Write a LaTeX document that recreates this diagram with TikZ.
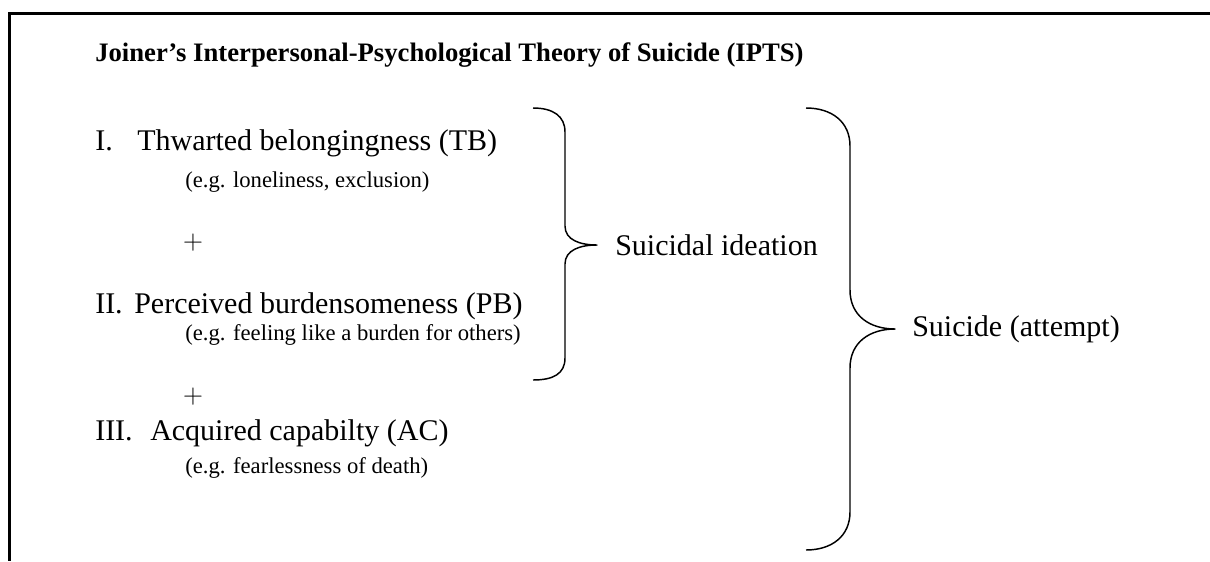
\documentclass[tikz,border=0pt]{standalone}
\usepackage{fontspec}
\setmainfont{Liberation Serif}
\tikzset{
  titre/.style={anchor=base west, inner sep=0pt, font=\fontsize{20}{24}\selectfont\bfseries},
  facteur/.style={anchor=base west, inner sep=0pt, font=\fontsize{22.5}{27}\selectfont},
  exemple/.style={anchor=base west, inner sep=0pt, font=\fontsize{17}{20}\selectfont},
  plus/.style={anchor=center, inner sep=0pt, font=\fontsize{20}{24}\selectfont},
  accolade/.style={line width=1.1pt, line join=round},
}
\begin{document}
\begin{tikzpicture}[x=0.75pt, y=-0.75pt]
            \useasboundingbox (0,0) rectangle (1210,561);

            % Cadre (ouvert en bas et a droite)
            \draw[line width=1.6pt] (1210,13.5) -- (9.5,13.5) -- (9.5,561);

            % Titre
            \node[titre] (title) at (95,61) {Joiner’s Interpersonal-Psychological Theory of Suicide (IPTS)};

            % Facteurs I, II, III
            \node[facteur] (tbnum) at (95,150) {I.};
            \node[facteur] (tb) at (137,150) {Thwarted belongingness (TB)};
            \node[exemple] (tbex) at (185,187) {(e.g. loneliness, exclusion)};
            \node[plus] (plusa) at (193,243) {$+$};

            \node[facteur] (pbnum) at (95,313) {II.};
            \node[facteur] (pb) at (134,313) {Perceived burdensomeness (PB)};
            \node[exemple] (pbex) at (185,340) {(e.g. feeling like a burden for others)};
            \node[plus] (plusb) at (193,397) {$+$};

            \node[facteur] (acnum) at (95,440) {III.};
            \node[facteur] (ac) at (150,440) {Acquired capabilty (AC)};
            \node[exemple] (acex) at (185,473) {(e.g. fearlessness of death)};

            % Conclusions
            \node[facteur, anchor=west] (ideation) at (615,245) {Suicidal ideation};
            \node[facteur, anchor=west] (suicide) at (912,329) {Suicide (attempt)};

            % Accolade 1 : TB + PB
            \coordinate (A1) at (533,108);
            \coordinate (P1) at (597,245);
            \coordinate (B1) at (533,380);
            \draw[accolade] (A1) .. controls (553,108) and (565,116) .. (565,132)
              -- (565,226) .. controls (565,240) and (580,245) .. (P1)
              .. controls (580,245) and (565,250) .. (565,264)
              -- (565,358) .. controls (565,374) and (553,380) .. (B1);

            % Accolade 2 : TB + PB + AC
            \coordinate (A2) at (806,108);
            \coordinate (P2) at (895,329);
            \coordinate (B2) at (806,550);
            \draw[accolade] (A2) .. controls (832,108) and (850,122) .. (850,146)
              -- (850,290) .. controls (850,316) and (870,329) .. (P2)
              .. controls (870,329) and (850,342) .. (850,368)
              -- (850,512) .. controls (850,536) and (832,550) .. (B2);

        \end{tikzpicture}
\end{document}
